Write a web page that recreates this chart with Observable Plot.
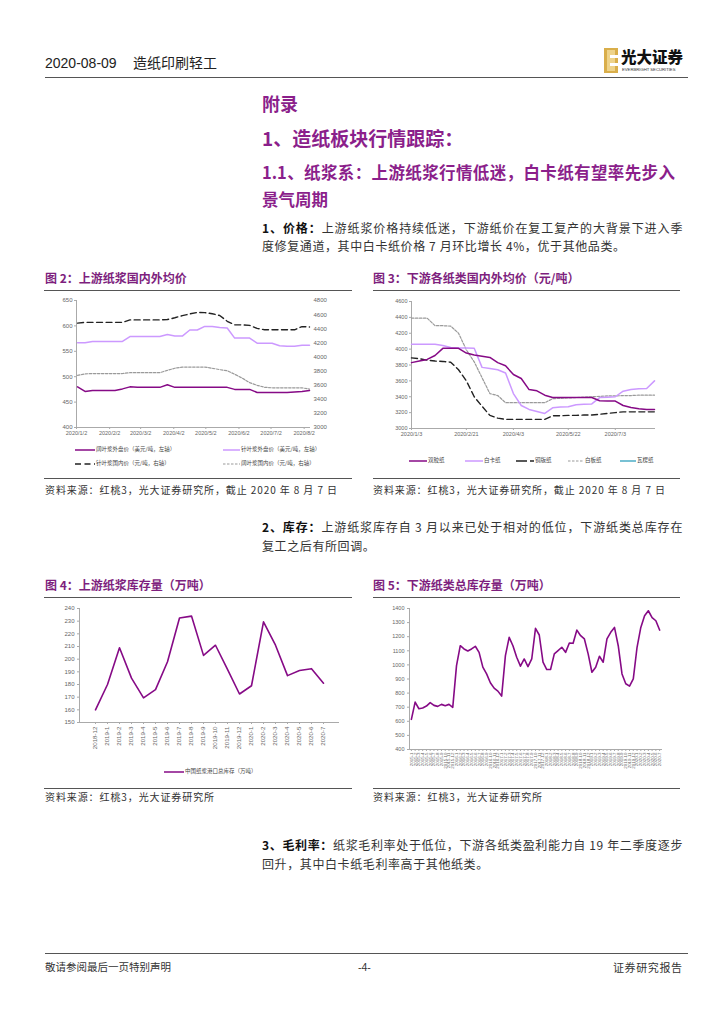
<!DOCTYPE html>
<html><head><meta charset="utf-8">
<script src="https://cdn.jsdelivr.net/npm/d3@7"></script>
<script src="https://cdn.jsdelivr.net/npm/@observablehq/plot@0.6"></script>
<style>
body{margin:0;background:#fff;}
#page{position:relative;width:724px;height:1024px;overflow:hidden;font-family:"Noto Sans CJK SC",sans-serif;color:#222;background:#fff;}
#page div{position:absolute;white-space:nowrap;line-height:1;}
.h{color:#8B1F8B;font-weight:700;}
.body{font-size:12px;color:#333;left:262px;width:421px;letter-spacing:0.6px;}
.j{text-align:justify;text-align-last:justify;}
.ft{color:#7E1F7E;font-weight:700;font-size:12px;}
.rule{height:0;border-top:1.5px solid #555;}
.src{font-size:10px;letter-spacing:0.9px;color:#333;}
.leg{font-size:5.5px;color:#444;}
svg{position:absolute;}
</style></head>
<body><div id="page"></div>
<script>
// ---------- data ----------
const weeks = ["2020-01-03","2020-01-10","2020-01-17","2020-01-24","2020-01-31","2020-02-07","2020-02-14","2020-02-21","2020-02-28","2020-03-06","2020-03-13","2020-03-20","2020-03-27","2020-04-03","2020-04-10","2020-04-17","2020-04-24","2020-05-01","2020-05-08","2020-05-15","2020-05-22","2020-05-29","2020-06-05","2020-06-12","2020-06-19","2020-06-26","2020-07-03","2020-07-10","2020-07-17","2020-07-24","2020-07-31","2020-08-07"];

// Figure 2 (left axis USD/t, right axis RMB/t)
const fig2Names = ["阔叶浆外盘价（美元/吨，左轴）","针叶浆外盘价（美元/吨，左轴）","针叶浆国内价（元/吨，右轴）","阔叶浆国内价（元/吨，右轴）"];
const hwIntl = [480,471,473,473,473,473,476,480,479,479,479,479,484,479,479,479,479,479,479,479,479,475,475,475,469,469,469,469,469,470,471,473];
const swIntl = [567,567,569.5,569.5,569.5,569.5,569.5,579,579,579,579,579,583,580,580,592,592,599,599,597,596,576,576,576,566,566,566,561,560,560,562,562];
const swDom = [4480,4490,4490,4490,4490,4490,4490,4525,4525,4525,4525,4525,4530,4555,4585,4610,4630,4628,4612,4588,4505,4455,4455,4447,4405,4385,4385,4385,4385,4385,4430,4425];
const hwDom = [3740,3760,3765,3765,3765,3765,3765,3777,3777,3777,3777,3777,3810,3840,3857,3857,3857,3857,3840,3820,3805,3755,3700,3636,3598,3570,3562,3562,3562,3562,3562,3545];
const fig2LeftTicks = [400,450,500,550,600,650];
const fig2RightTicks = [3000,3200,3400,3600,3800,4000,4200,4400,4600,4800];
const fig2XTicks = ["2020-01-02","2020-02-02","2020-03-02","2020-04-02","2020-05-02","2020-06-02","2020-07-02","2020-08-02"];
const fig2XLabels = ["2020/1/2","2020/2/2","2020/3/2","2020/4/2","2020/5/2","2020/6/2","2020/7/2","2020/8/2"];

// Figure 3 (RMB/t)
const fig3Names = ["双胶纸","白卡纸","铜版纸","白板纸","瓦楞纸"];
const dbl = [3830,3850,3870,3920,4010,4010,4010,3950,3925,3910,3895,3830,3790,3680,3630,3490,3475,3420,3390,3390,3390,3390,3390,3390,3350,3345,3345,3290,3265,3250,3240,3240];
const wk = [4060,4060,4060,4060,4045,4020,4015,4015,4010,3770,3755,3740,3700,3440,3290,3240,3215,3190,3260,3270,3275,3300,3305,3310,3390,3395,3400,3470,3490,3500,3505,3600];
const cp = [3890,3880,3860,3850,3845,3835,3740,3600,3400,3280,3165,3130,3115,3115,3115,3115,3115,3115,3160,3160,3165,3165,3170,3170,3180,3190,3200,3210,3210,3210,3210,3210];
const bb = [4390,4390,4390,4295,4295,4290,4200,3990,3840,3640,3440,3415,3325,3325,3325,3325,3325,3325,3375,3380,3385,3390,3395,3400,3405,3410,3410,3415,3415,3420,3420,3420];
const fig3YTicks = [3000,3200,3400,3600,3800,4000,4200,4400,4600];
const fig3XTicks = ["2020-01-03","2020-02-21","2020-04-03","2020-05-22","2020-07-03"];
const fig3XLabels = ["2020/1/3","2020/2/21","2020/4/3","2020/5/22","2020/7/3"];

// Figure 4 (万吨)
const fig4Months = ["2018-12","2019-1","2019-2","2019-3","2019-4","2019-5","2019-6","2019-7","2019-8","2019-9","2019-10","2019-11","2019-12","2020-1","2020-2","2020-3","2020-4","2020-5","2020-6","2020-7"];
const fig4Stock = [160,180,209,185,169.5,176,198,232.5,234,203,211,192,172.5,179,229.5,211,187,191,192.5,181];
const fig4YTicks = [150,160,170,180,190,200,210,220,230,240];
const fig4Name = "中国纸浆港口总库存（万吨）";

// Figure 5 (万吨)
const fig5Months = ("2015-1 2015-2 2015-3 2015-4 2015-5 2015-6 2015-7 2015-8 2015-9 2015-10 2015-11 2015-12 " +
 "2016-1 2016-2 2016-3 2016-4 2016-5 2016-6 2016-7 2016-8 2016-9 2016-10 2016-11 2016-12 " +
 "2017-1 2017-2 2017-3 2017-4 2017-5 2017-6 2017-7 2017-8 2017-9 2017-10 2017-11 2017-12 " +
 "2018-1 2018-2 2018-3 2018-4 2018-5 2018-6 2018-7 2018-8 2018-9 2018-10 2018-11 2018-12 " +
 "2019-1 2019-2 2019-3 2019-4 2019-5 2019-6 2019-7 2019-8 2019-9 2019-10 2019-11 2019-12 " +
 "2020-1 2020-2 2020-3 2020-4 2020-5 2020-6 2020-7").split(" ");
const fig5Stock = [614,736,689,694,708,732,713,706,720,711,720,699,995,1136,1113,1099,1113,1132,1089,984,936,873,835,814,779,1066,1195,1136,1054,991,1042,988,1042,1259,1212,1019,967,967,1078,1101,1125,1089,1155,1153,1247,1207,1184,1078,948,984,1061,1019,1184,1231,1266,1136,936,866,849,901,1125,1266,1348,1384,1336,1313,1247];
const fig5YTicks = [400,500,600,700,800,900,1000,1100,1200,1300,1400];

// ---------- helpers ----------
const page = document.getElementById("page");
function div(html, left, top, cls, extra){
  const d = document.createElement("div");
  d.innerHTML = html; if (cls) d.className = cls;
  d.style.left = left + "px"; d.style.top = top + "px";
  if (extra) Object.assign(d.style, extra);
  page.appendChild(d); return d;
}
function rule(left, top, width){ const d = div("", left, top, "rule"); d.style.width = width + "px"; }
function legItem(x, y, len, color, dash, w, label){
  const s = d3.create("svg").attr("width", len).attr("height", 4)
    .style("left", x + "px").style("top", (y - 2) + "px");
  s.append("line").attr("x1",0).attr("x2",len).attr("y1",2).attr("y2",2)
    .attr("stroke",color).attr("stroke-width",w).attr("stroke-dasharray", dash);
  page.appendChild(s.node());
  div(label, x + len + 1, y - 3, "leg");
}
function place(svgNode, left, top){ svgNode.style.position="absolute"; svgNode.style.left=left+"px"; svgNode.style.top=top+"px"; page.appendChild(svgNode); }
const axStyle = {fontFamily:"Liberation Sans, Arial, sans-serif", fontSize:"6px", color:"#666", background:"transparent", overflow:"visible"};
const GRID = "#aaa";
const PURPLE = "#860A86", LAV = "#CC99FF";

// ---------- header ----------
div("2020-08-09", 45, 56, null, {fontFamily:"Liberation Sans, Arial", fontSize:"14px", color:"#222"});
div("造纸印刷轻工", 133, 55, null, {fontSize:"14px", color:"#222"});
const logo = d3.create("svg").attr("width",14).attr("height",25).style("left","604px").style("top","48px");
logo.append("rect").attr("width",14).attr("height",25).attr("fill","#D9AE4A");
logo.append("rect").attr("x",3).attr("y",2).attr("width",8).attr("height",21).attr("fill","#EED38A");
logo.append("rect").attr("x",6).attr("y",7).attr("width",8).attr("height",3).attr("fill","#fff");
logo.append("rect").attr("x",6).attr("y",15).attr("width",8).attr("height",3).attr("fill","#fff");
page.appendChild(logo.node());
div("光大证券", 621, 49, null, {fontSize:"15.5px", fontWeight:"900", color:"#111", fontFamily:"'Noto Sans CJK SC'"});
div("EVERBRIGHT SECURITIES", 622, 68, null, {fontSize:"4.2px", color:"#333", fontFamily:"Liberation Sans"});
rule(45, 77, 643);

// ---------- headings ----------
div("附录", 262, 94, "h", {fontSize:"18px"});
div("1、造纸板块行情跟踪：", 262, 128, "h", {fontSize:"19px"});
div("1.1、纸浆系：上游纸浆行情低迷，白卡纸有望率先步入", 262, 164, "h j", {fontSize:"16.5px", width:"413px"});
div("景气周期", 262, 191, "h", {fontSize:"16.5px"});
div("<b style='color:#111'>1、价格：</b>上游纸浆价格持续低迷，下游纸价在复工复产的大背景下进入季", 262, 222, "body j");
div("度修复通道，其中白卡纸价格 7 月环比增长 4%，优于其他品类。", 262, 240, "body");

// ---------- figure titles ----------
div("图 2：上游纸浆国内外均价", 45, 272, "ft");
div("图 3：下游各纸类国内外均价（元/吨）", 373, 272, "ft");
rule(44, 290, 308); rule(373, 290, 307);

// ---------- Figure 2 ----------
const conv = r => 400 + (r - 3000) * 250 / 1800;
const inv = l => String(Math.round(3000 + (l - 400) * 1800 / 250));
const f2lab = new Map(fig2XTicks.map((d,i)=>[+new Date(d), fig2XLabels[i]]));
const ser = arr => weeks.map((w,i)=>({date:new Date(w), v:arr[i]}));
const c2 = Plot.plot({
  width:316, height:150, marginLeft:40, marginRight:43, marginTop:8, marginBottom:15,
  style:axStyle,
  x:{type:"utc", domain:[new Date("2020-01-02"), new Date("2020-08-07")], label:null},
  y:{domain:[400,650], label:null},
  marks:[
    Plot.axisY({ticks:fig2LeftTicks, tickSize:2, tickPadding:2, tickFormat:d=>String(d), stroke:GRID}),
    Plot.axisY({anchor:"right", ticks:fig2RightTicks.map(conv), tickSize:0, tickPadding:4, tickFormat:inv}),
    Plot.axisX({ticks:fig2XTicks.map(d=>new Date(d)), tickSize:2, tickPadding:2, tickFormat:d=>f2lab.get(+d), stroke:GRID, fontSize:5.5}),
    Plot.frame({anchor:"left", stroke:GRID}),
    Plot.frame({anchor:"bottom", stroke:GRID}),
    Plot.line(ser(hwDom).map(d=>({date:d.date, v:conv(d.v)})), {x:"date", y:"v", stroke:"#9a9a9a", strokeWidth:1.2, strokeDasharray:"2.5,1.5"}),
    Plot.line(ser(swDom).map(d=>({date:d.date, v:conv(d.v)})), {x:"date", y:"v", stroke:"#222", strokeWidth:1.4, strokeDasharray:"6,3.5"}),
    Plot.line(ser(swIntl), {x:"date", y:"v", stroke:LAV, strokeWidth:1.5}),
    Plot.line(ser(hwIntl), {x:"date", y:"v", stroke:PURPLE, strokeWidth:1.5})
  ]
});
place(c2, 36, 292);
legItem(75, 450, 20, PURPLE, null, 1.5, fig2Names[0]);
legItem(223, 450, 17, LAV, null, 1.5, fig2Names[1]);
legItem(75, 464, 20, "#222", "6,3.5", 1.4, fig2Names[2]);
legItem(223, 464, 17, "#9a9a9a", "2.5,1.5", 1.2, fig2Names[3]);

// ---------- Figure 3 ----------
const f3lab = new Map(fig3XTicks.map((d,i)=>[+new Date(d), fig3XLabels[i]]));
const c3 = Plot.plot({
  width:318, height:150, marginLeft:45, marginRight:30, marginTop:9, marginBottom:14,
  style:axStyle,
  x:{type:"utc", domain:[new Date("2020-01-03"), new Date("2020-08-07")], label:null},
  y:{domain:[3000,4600], label:null},
  marks:[
    Plot.axisY({ticks:fig3YTicks, tickSize:2, tickPadding:2, tickFormat:d=>String(d), stroke:GRID, fontSize:5.5}),
    Plot.axisX({ticks:fig3XTicks.map(d=>new Date(d)), tickSize:2, tickPadding:2, tickFormat:d=>f3lab.get(+d), stroke:GRID, fontSize:5.5}),
    Plot.frame({anchor:"left", stroke:GRID}),
    Plot.frame({anchor:"bottom", stroke:GRID}),
    Plot.line(ser(bb), {x:"date", y:"v", stroke:"#9a9a9a", strokeWidth:1.2, strokeDasharray:"2.5,1.5"}),
    Plot.line(ser(cp), {x:"date", y:"v", stroke:"#222", strokeWidth:1.4, strokeDasharray:"6,3.5"}),
    Plot.line(ser(wk), {x:"date", y:"v", stroke:LAV, strokeWidth:1.5}),
    Plot.line(ser(dbl), {x:"date", y:"v", stroke:PURPLE, strokeWidth:1.5})
  ]
});
place(c3, 366, 292);
legItem(409, 461, 18, PURPLE, null, 1.5, fig3Names[0]);
legItem(465, 461, 18, LAV, null, 1.5, fig3Names[1]);
legItem(516, 461, 18, "#222", "11,3", 1.4, fig3Names[2]);
legItem(568, 461, 16, "#9a9a9a", "2.5,1.5", 1.2, fig3Names[3]);
legItem(620, 461, 16, "#4BACC6", null, 1.5, fig3Names[4]);

rule(44, 478, 308); rule(373, 478, 307);
div("资料来源：红桃3，光大证券研究所，截止 2020 年 8 月 7 日", 45, 485, "src");
div("资料来源：红桃3，光大证券研究所，截止 2020 年 8 月 7 日", 373, 485, "src");

// ---------- section 2 text ----------
div("<b style='color:#111'>2、库存：</b>上游纸浆库存自 3 月以来已处于相对的低位，下游纸类总库存在", 262, 521, "body j");
div("复工之后有所回调。", 262, 540, "body");

div("图 4：上游纸浆库存量（万吨）", 45, 579, "ft");
div("图 5：下游纸类总库存量（万吨）", 373, 579, "ft");
rule(44, 597, 308); rule(373, 597, 307);

// ---------- Figure 4 ----------
const c4 = Plot.plot({
  width:316, height:165, marginLeft:43, marginRight:14, marginTop:8, marginBottom:43,
  style:axStyle,
  x:{type:"point", domain:fig4Months, padding:0.5, label:null},
  y:{domain:[150,240], label:null},
  marks:[
    Plot.axisY({ticks:fig4YTicks, tickSize:2, tickPadding:3, tickFormat:d=>String(d), stroke:GRID}),
    Plot.axisX({tickRotate:-90, tickSize:2, tickPadding:2, stroke:GRID, fontSize:6.2}),
    Plot.frame({anchor:"left", stroke:GRID}),
    Plot.frame({anchor:"bottom", stroke:GRID}),
    Plot.line(fig4Months.map((m,i)=>({m, v:fig4Stock[i]})), {x:"m", y:"v", stroke:PURPLE, strokeWidth:1.6})
  ]
});
place(c4, 36, 600);
legItem(164, 772, 20, PURPLE, null, 1.5, fig4Name);

// ---------- Figure 5 ----------
const c5 = Plot.plot({
  width:318, height:180, marginLeft:43, marginRight:23, marginTop:8, marginBottom:31,
  style:axStyle,
  x:{type:"point", domain:fig5Months, padding:0.5, label:null},
  y:{domain:[400,1400], label:null},
  marks:[
    Plot.axisY({ticks:fig5YTicks, tickSize:2, tickPadding:3, tickFormat:d=>String(d), stroke:GRID, fontSize:5.5}),
    Plot.axisX({tickRotate:-90, tickSize:2, tickPadding:1, stroke:GRID, fontSize:4.4}),
    Plot.frame({anchor:"left", stroke:GRID}),
    Plot.frame({anchor:"bottom", stroke:GRID}),
    Plot.line(fig5Months.map((m,i)=>({m, v:fig5Stock[i]})), {x:"m", y:"v", stroke:PURPLE, strokeWidth:1.6})
  ]
});
place(c5, 366, 600);

rule(44, 788, 308); rule(373, 788, 307);
div("资料来源：红桃3，光大证券研究所", 45, 792, "src");
div("资料来源：红桃3，光大证券研究所", 373, 792, "src");

// ---------- section 3 text ----------
div("<b style='color:#111'>3、毛利率：</b>纸浆毛利率处于低位，下游各纸类盈利能力自 19 年二季度逐步", 262, 839, "body j");
div("回升，其中白卡纸毛利率高于其他纸类。", 262, 858, "body");

// ---------- footer ----------
rule(45, 953, 643);
div("敬请参阅最后一页特别声明", 45, 962, null, {fontSize:"10.5px", color:"#333"});
div("-4-", 358, 962, null, {fontSize:"10.5px", color:"#333", fontFamily:"Liberation Sans"});
div("证券研究报告", 613, 962, null, {fontSize:"11px", color:"#333", letterSpacing:"0.6px"});
</script>
</body></html>
